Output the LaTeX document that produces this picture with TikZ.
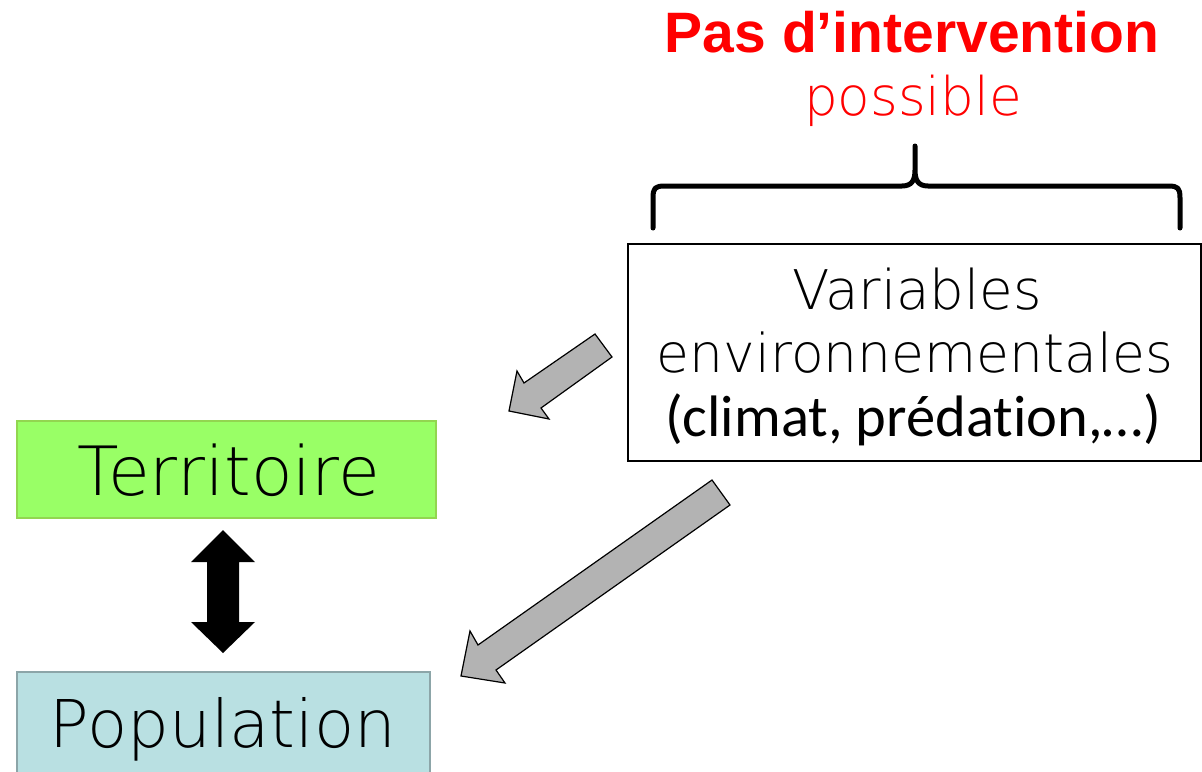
\documentclass[tikz,border=0pt]{standalone}
\usepackage{fontspec}
\usepackage{graphicx}
\setmainfont{DejaVu Sans}
\IfFontExistsTF{DejaVu Sans ExtraLight}{\newfontfamily\thinfont{DejaVu Sans ExtraLight}}{%
 \IfFontExistsTF{Open Sans Light}{\newfontfamily\thinfont{Open Sans Light}}{%
  \IfFontExistsTF{Lato Light}{\newfontfamily\thinfont{Lato Light}}{%
   \IfFontExistsTF{Fira Sans Light}{\newfontfamily\thinfont{Fira Sans Light}}{%
    \IfFontExistsTF{Noto Sans Light}{\newfontfamily\thinfont{Noto Sans Light}}{%
     \newfontfamily\thinfont{DejaVu Sans}}}}}}
\newfontfamily\boldred{Liberation Sans}
\newfontfamily\calib{Carlito}[Ligatures=NoCommon]
\definecolor{terrfill}{RGB}{153,255,102}
\definecolor{terrdraw}{RGB}{146,214,80}
\definecolor{popfill}{RGB}{185,224,226}
\definecolor{popdraw}{RGB}{140,165,168}
\definecolor{arrgray}{RGB}{179,179,179}
\newcommand{\thintext}[2]{\resizebox{#1pt}{!}{\thinfont\fontsize{60}{70}\selectfont #2}}
\tikzset{
  boxshape/.style={draw, line width=2pt},
  blockarrow/.style={fill=arrgray, draw=black, line width=1.2pt, line join=miter},
  txt/.style={inner sep=0pt, anchor=base}
}
\begin{document}
\begin{tikzpicture}[x=1pt,y=-1pt]
\useasboundingbox (0,0) rectangle (1202,771);
% boxes
\path[boxshape, fill=terrfill, draw=terrdraw] (17,421) rectangle (436,518);
\node[txt] (terr) at (229,495) {\thintext{302}{Territoire}};
\path[boxshape, fill=popfill, draw=popdraw] (17,672) rectangle (430,775);
\node[txt] (pop) at (223,747) {\thintext{346}{Population}};
\draw[boxshape, draw=black, fill=white] (628,244) rectangle (1201,461);
\node[txt] (v1) at (917,309) {\thintext{250}{Variables}};
\node[txt] (v2) at (915,372) {\thintext{516}{environnementales}};
\node[txt] (v3) at (913,436) {\calib\fontsize{58.5}{64}\selectfont (climat, prédation,…)};
% title
\node[txt, text=red] (t1) at (912,52) {\boldred\bfseries\fontsize{57}{64}\selectfont Pas d’intervention};
\node[txt, text=red] (t2) at (913,115) {\thintext{218}{possible}};
% brace
\draw[line width=5pt, line cap=round, line join=round]
  (653,228) -- (653,198) .. controls (653,188) and (655,186) .. (665,186)
  -- (902,186) .. controls (912,186) and (915,180) .. (915,170) -- (915,146)
  (915,170) .. controls (915,180) and (918,186) .. (928,186)
  -- (1168,186) .. controls (1178,186) and (1180,188) .. (1180,198) -- (1180,228);
% double arrow
\fill[black] (223,530) -- (255,562) -- (239,562) -- (239,622) -- (255,622) -- (223,653)
  -- (191,622) -- (207,622) -- (207,562) -- (191,562) -- cycle;
% gray block arrows
\draw[blockarrow] (595,334) -- (612,357) -- (541,408) -- (549,419) -- (509,411) -- (517,371) -- (524,383) -- cycle;
\draw[blockarrow] (712,480) -- (730,505) -- (496,670) -- (505,683) -- (461,676) -- (470,631) -- (478,645) -- cycle;
\end{tikzpicture}
\end{document}
